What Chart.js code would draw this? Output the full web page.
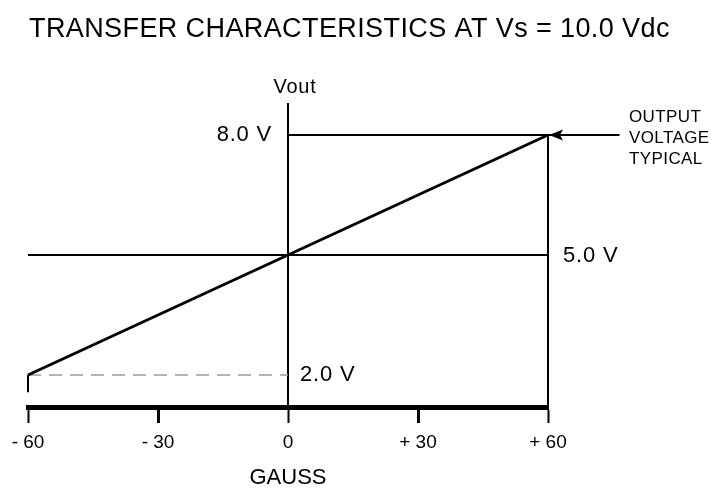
<!DOCTYPE html>
<html>
<head>
<meta charset="utf-8">
<script src="https://cdn.jsdelivr.net/npm/chart.js@4"></script>
<style>
  body { margin: 0; background: #fff; }
  #box { width: 715px; height: 493px; }
</style>
</head>
<body>
<div id="box"><canvas id="chart0"></canvas></div>
<script>
// gauss values and their tick labels
const gaussTicks = [-60, -30, 0, 30, 60];
const gaussLabels = ['- 60', '- 30', '0', '+ 30', '+ 60'];

// typical output line (gauss -> volts)
const typGauss = [-60, 60];
const typVout = [2.0, 8.0];

// reference levels
const refVolts = [8.0, 5.0, 2.0];
const refLabels = ['8.0 V', '5.0 V', '2.0 V'];

const noteLines = ['OUTPUT', 'VOLTAGE', 'TYPICAL'];
const titleText = 'TRANSFER CHARACTERISTICS AT Vs = 10.0 Vdc';

const FONT = "'Liberation Sans', Arial, Helvetica, sans-serif";
let chart0 = document.getElementById('chart0');

function seg(x1, y1, x2, y2) {
    return [{ x: x1, y: y1 }, { x: x2, y: y2 }];
}

function lineSet(data, width, extra) {
    return Object.assign({
        data: data,
        showLine: true,
        borderColor: '#000',
        borderWidth: width,
        pointRadius: 0,
        borderCapStyle: 'butt',
        clip: false,
    }, extra || {});
}

// texts and the arrowhead, placed with the chart scales
const notes = {
    id: 'notes',
    afterDatasetsDraw(chart) {
        const ctx = chart.ctx;
        const xs = chart.scales.x, ys = chart.scales.y;
        const x0 = xs.getPixelForValue(0);
        const x60 = xs.getPixelForValue(60);
        ctx.save();
        ctx.fillStyle = '#000';
        ctx.textBaseline = 'middle';

        // title (drawn here so it is not squeezed into the plot width)
        ctx.font = '27px ' + FONT;
        ctx.letterSpacing = '0.4px';
        ctx.textAlign = 'left';
        ctx.fillText(titleText, 29, 30);

        ctx.font = '22px ' + FONT;
        ctx.letterSpacing = '0.8px';
        ctx.textAlign = 'right';
        ctx.fillText(refLabels[0], x0 - 16, ys.getPixelForValue(refVolts[0]));
        ctx.textAlign = 'left';
        ctx.fillText(refLabels[1], x60 + 15, ys.getPixelForValue(refVolts[1]) + 1);
        ctx.fillText(refLabels[2], x0 + 12, ys.getPixelForValue(refVolts[2]));

        ctx.font = '20px ' + FONT;
        ctx.letterSpacing = '0.8px';
        ctx.textAlign = 'center';
        ctx.fillText('Vout', x0 + 7, chart.chartArea.top - 16);

        ctx.font = '17px ' + FONT;
        ctx.letterSpacing = '0.4px';
        ctx.textAlign = 'left';
        let yTop = ys.getPixelForValue(typVout[1]);
        noteLines.forEach((t, i) => ctx.fillText(t, x60 + 81, yTop - 18 + i * 21));

        // arrowhead pointing at the end of the typical line
        ctx.beginPath();
        ctx.moveTo(x60 + 1, yTop);
        ctx.lineTo(x60 + 15, yTop - 5.5);
        ctx.lineTo(x60 + 12, yTop);
        ctx.lineTo(x60 + 15, yTop + 5.5);
        ctx.closePath();
        ctx.fill();
        ctx.restore();
    }
};

new Chart(chart0, {
    type: 'scatter',
    data: {
        datasets: [
            lineSet(seg(typGauss[0], typVout[0], typGauss[1], typVout[1]), 3),
            lineSet(seg(0, refVolts[0], 60, refVolts[0]), 2),
            lineSet(seg(-60, refVolts[1], 60, refVolts[1]), 2),
            lineSet(seg(-60, refVolts[2], 0, refVolts[2]), 1.5, { borderColor: '#9a9a9a', borderDash: [13, 8] }),
            lineSet(seg(0, 8.8, 0, 1.2), 2),
            lineSet(seg(60, refVolts[0], 60, 1.2), 2),
            lineSet(seg(-60, refVolts[2], -60, 1.57), 2),
            lineSet(seg(60, refVolts[0], 76.5, refVolts[0]), 2),
        ]
    },
    options: {
        responsive: true,
        maintainAspectRatio: false,
        animation: false,
        layout: {
            padding: { left: 28, right: 167, top: 103, bottom: 0 }
        },
        plugins: {
            legend: { display: false },
            tooltip: { enabled: false },
            title: { display: false }
        },
        scales: {
            x: {
                type: 'linear',
                min: -60,
                max: 60,
                afterBuildTicks(scale) {
                    scale.ticks = gaussTicks.map(v => ({ value: v }));
                },
                afterFit(scale) {
                    scale.height = 86;
                },
                grid: {
                    drawOnChartArea: false,
                    drawTicks: true,
                    tickLength: 16,
                    tickWidth: ctx => (ctx.tick && ctx.tick.value % 60 === 0) ? 2 : 3,
                    tickColor: '#000'
                },
                border: { display: true, color: '#000', width: 5 },
                ticks: {
                    color: '#000',
                    padding: 8,
                    maxRotation: 0,
                    font: { family: FONT, size: 19 },
                    callback: (v) => gaussLabels[gaussTicks.indexOf(v)]
                },
                title: {
                    display: true,
                    text: 'GAUSS',
                    color: '#000',
                    font: { family: FONT, size: 22 },
                    padding: { top: 0, bottom: 2 }
                }
            },
            y: {
                type: 'linear',
                display: false,
                min: 1.2,
                max: 8.8
            }
        }
    },
    plugins: [notes]
});
</script>
</body>
</html>
